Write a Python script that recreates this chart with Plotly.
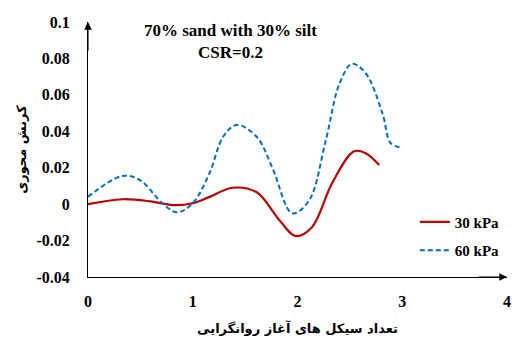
import plotly.graph_objects as go

# Series
x_30 = [0.0, 0.33, 0.6, 0.81, 1.0, 1.16, 1.38, 1.61, 1.83, 1.98, 2.14, 2.33, 2.54, 2.65, 2.78]
y_30 = [0.0, 0.0027, 0.0015, -0.0005, 0.0005, 0.004, 0.009, 0.0065, -0.009, -0.0175, -0.0125, 0.0115, 0.029, 0.028, 0.0215]

x_60 = [0.0, 0.33, 0.5, 0.71, 0.85, 1.0, 1.16, 1.29, 1.42, 1.61, 1.76, 1.95, 2.11, 2.27, 2.4, 2.52, 2.65, 2.81, 2.89, 2.99]
y_60 = [0.004, 0.0155, 0.013, 0.0005, -0.0045, 0.0005, 0.017, 0.037, 0.0435, 0.037, 0.020, -0.005, 0.002, 0.035, 0.066, 0.077, 0.072, 0.050, 0.0335, 0.031]

series_names = ["30 kPa", "60 kPa"]
x_ticks = [0, 1, 2, 3, 4]
y_ticks = [-0.04, -0.02, 0, 0.02, 0.04, 0.06, 0.08, 0.1]
y_tick_labels = ["-0.04", "-0.02", "0", "0.02", "0.04", "0.06", "0.08", "0.1"]
title_lines = ["70% sand with 30% silt", "CSR=0.2"]
x_title = "تعداد سیکل های آغاز روانگرایی"
y_title = "کرنش محوری"

serif = "Liberation Serif, Times New Roman, serif"
arab = "DejaVu Sans"

fig = go.Figure()
fig.add_trace(go.Scatter(x=x_30, y=y_30, mode="lines", name="<b>" + series_names[0] + "</b>",
                         line=dict(color="#C00000", width=2.2, shape="spline", smoothing=1.0),
                         legendgroup="a"))
fig.add_trace(go.Scatter(x=x_60, y=y_60, mode="lines", name="<b>" + series_names[1] + "</b>",
                         line=dict(color="#0070C0", width=2, dash="5px,3px", shape="spline", smoothing=1.0),
                         legendgroup="b"))

# axis arrowheads
fig.add_annotation(x=0, y=0.1, xref="x", yref="y", ax=0, ay=30, showarrow=True, arrowhead=2,
                   arrowsize=1.4, arrowwidth=1.1, arrowcolor="black", text="")
fig.add_annotation(x=4, y=-0.04, xref="x", yref="y", ax=-30, ay=0, showarrow=True, arrowhead=2,
                   arrowsize=1.4, arrowwidth=1.1, arrowcolor="black", text="")

fig.add_annotation(x=0.34, y=1.01, xref="paper", yref="paper", yanchor="top", showarrow=False,
                   text="<b>" + title_lines[0] + "</b><br><b>" + title_lines[1] + "</b>",
                   font=dict(family=serif, size=17, color="black"), align="center")

fig.update_layout(
    width=512, height=340,
    font=dict(family=serif, color="black"),
    margin=dict(l=88, r=5, t=22, b=63, autoexpand=False),
    paper_bgcolor="white", plot_bgcolor="white",
    showlegend=True,
    legend=dict(x=0.78, y=0.28, xanchor="left", yanchor="top",
                font=dict(family=serif, size=15, color="black"),
                tracegroupgap=6, bgcolor="rgba(0,0,0,0)"),
    xaxis=dict(range=[0, 4], tickvals=x_ticks, ticktext=["<b>%d</b>" % v for v in x_ticks],
               showgrid=False, zeroline=False, showline=True, linecolor="black", linewidth=1.1,
               ticks="", ticklabelstandoff=10, automargin=False,
               tickfont=dict(family=serif, size=16, color="black"),
               title=dict(text="<b>" + x_title + "</b>", font=dict(family=arab, size=13, color="black"), standoff=14)),
    yaxis=dict(range=[-0.04, 0.1], tickvals=y_ticks, ticktext=["<b>" + t + "</b>" for t in y_tick_labels],
               showgrid=False, zeroline=False, showline=True, linecolor="black", linewidth=1.1,
               ticks="", ticklabelstandoff=14, automargin=False,
               tickfont=dict(family=serif, size=16, color="black"),
               title=dict(text="<b>" + y_title + "</b>", font=dict(family=arab, size=13, color="black"), standoff=6)),
)

fig.write_html("out.html", config={"displayModeBar": False},
               post_script="document.body.style.margin='0';document.body.style.padding='0';")
